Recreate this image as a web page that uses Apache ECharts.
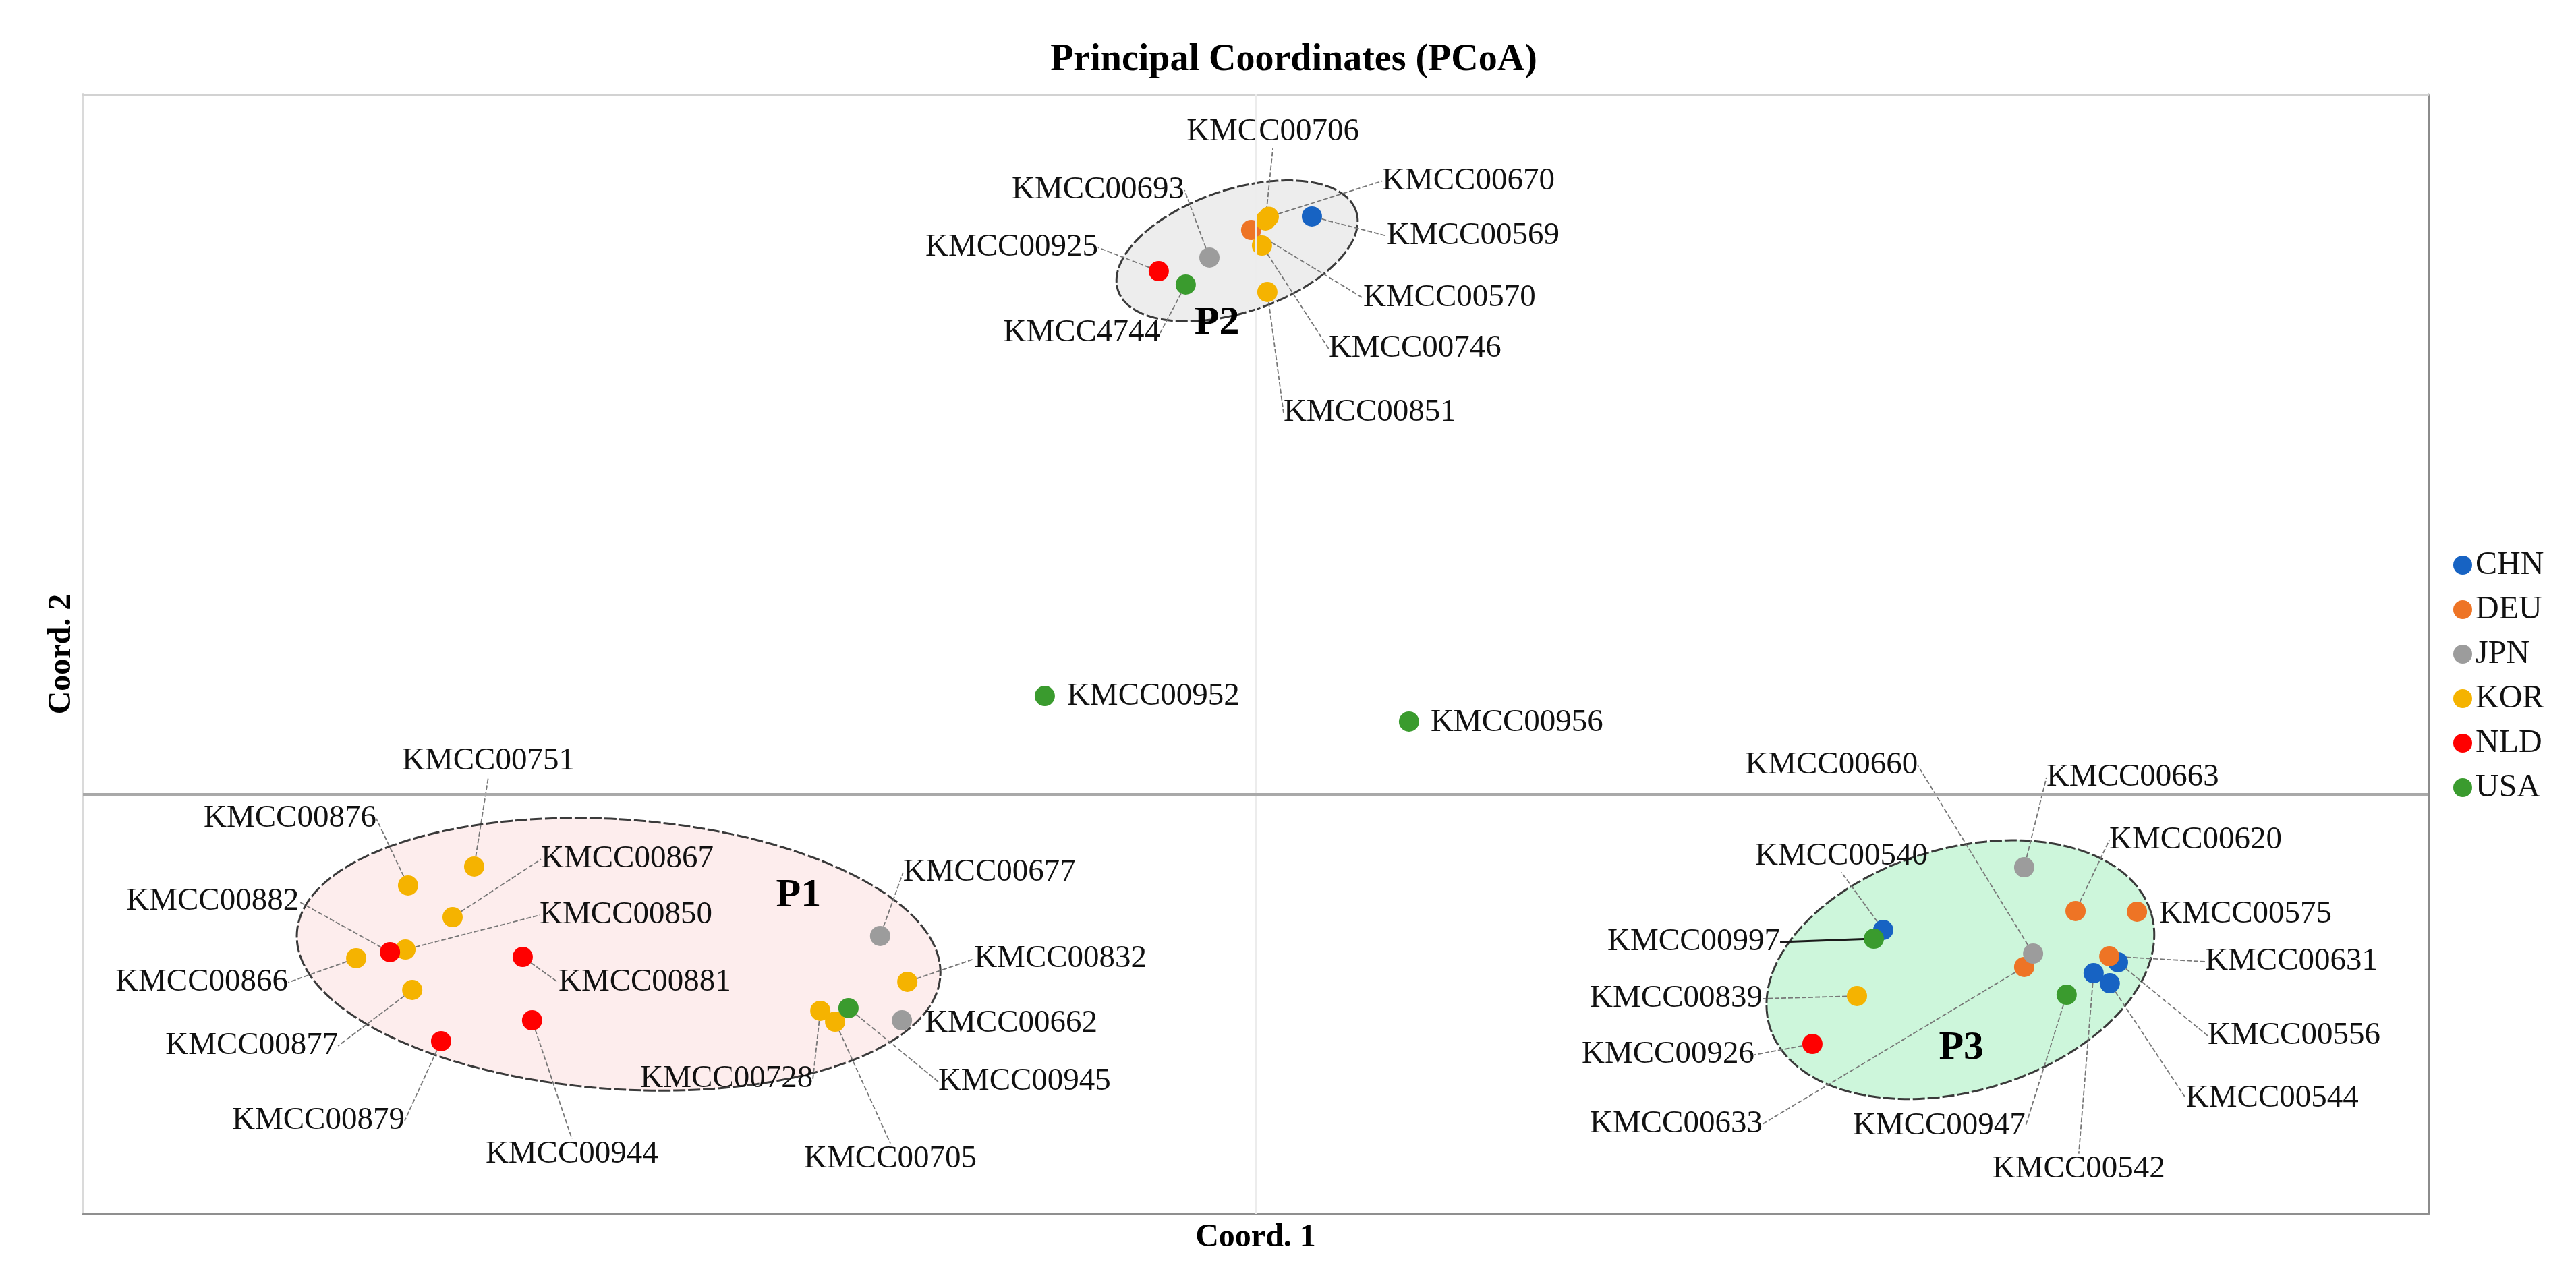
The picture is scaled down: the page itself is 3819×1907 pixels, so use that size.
<!DOCTYPE html>
<html><head><meta charset="utf-8">
<script src="https://cdn.jsdelivr.net/npm/echarts@6/dist/echarts.min.js"></script>
<style>html,body{margin:0;padding:0;background:#fff}#c{width:3819px;height:1907px}</style>
</head><body><div id="c"></div>
<script>
// ---- data (Coord. 1, Coord. 2) per country ----
const countries = ['CHN', 'DEU', 'JPN', 'KOR', 'NLD', 'USA'];
const CHN = [
  ['KMCC00569', 0.0240, 0.4128], ['KMCC00540', 0.2676, -0.0971], ['KMCC00556', 0.3677, -0.1202],
  ['KMCC00542', 0.3573, -0.1280], ['KMCC00544', 0.3642, -0.1352]
];
const DEU = [
  ['KMCC00570', -0.0019, 0.4031], ['KMCC00620', 0.3496, -0.0836], ['KMCC00575', 0.3758, -0.0841],
  ['KMCC00633', 0.3277, -0.1236], ['KMCC00631', 0.3640, -0.1159]
];
const JPN = [
  ['KMCC00693', -0.0197, 0.3834], ['KMCC00677', -0.1601, -0.1014], ['KMCC00662', -0.1508, -0.1617],
  ['KMCC00663', 0.3277, -0.0523], ['KMCC00660', 0.3315, -0.1140]
];
const KOR = [
  ['KMCC00706', 0.0042, 0.4099], ['KMCC00670', 0.0056, 0.4125], ['KMCC00746', 0.0027, 0.3920],
  ['KMCC00851', 0.0050, 0.3588], ['KMCC00751', -0.3332, -0.0518], ['KMCC00876', -0.3614, -0.0653],
  ['KMCC00867', -0.3424, -0.0880], ['KMCC00850', -0.3625, -0.1111], ['KMCC00866', -0.3835, -0.1173],
  ['KMCC00877', -0.3596, -0.1400], ['KMCC00832', -0.1485, -0.1342], ['KMCC00728', -0.1856, -0.1549],
  ['KMCC00705', -0.1793, -0.1627], ['KMCC00839', 0.2564, -0.1443]
];
const NLD = [
  ['KMCC00925', -0.0413, 0.3737], ['KMCC00882', -0.3691, -0.1130], ['KMCC00881', -0.3125, -0.1164],
  ['KMCC00879', -0.3473, -0.1766], ['KMCC00944', -0.3085, -0.1617], ['KMCC00926', 0.2374, -0.1786]
];
const USA = [
  ['KMCC4744', -0.0298, 0.3641], ['KMCC00952', -0.0899, 0.0701], ['KMCC00956', 0.0654, 0.0518],
  ['KMCC00945', -0.1736, -0.1530], ['KMCC00997', 0.2636, -0.1034], ['KMCC00947', 0.3458, -0.1434]
];
const seriesData = [CHN, DEU, JPN, KOR, NLD, USA];

// cluster ellipses (centres and P-label anchors in data units)
const clusterNames = ['P1', 'P2', 'P3'];
const clusterCenters = [[-0.2716, -0.1145], [-0.0079, 0.3882], [0.3005, -0.1255]];
const clusterLabelPos = [[-0.1949, -0.0730], [-0.0165, 0.3366], [0.3009, -0.1819]];

// ---- layout / style (not data) ----
const FONT = "'Liberation Serif', 'Times New Roman', serif";
const colors = ['#1763c3', '#ee7425', '#9c9c9c', '#f5b300', '#ff0000', '#3a9b2e'];
const clusterShape = [[478, 200, -3.9], [186, 91, 18.4], [295, 180, 16.5]]; // semi-axes px, rotation deg
const clusterFill = ['#fdeded', '#ededed', '#cdf6db'];
// label offsets from point centre, in px: [dx, dy, align]
const labelPlacement = {
  'KMCC00706': [11, -131, 'center'], 'KMCC00670': [168, -53, 'left'], 'KMCC00569': [111, 29, 'left'],
  'KMCC00570': [166, 101, 'left'], 'KMCC00746': [99, 153, 'left'], 'KMCC00851': [24, 179, 'left'],
  'KMCC00693': [-37, -100, 'right'], 'KMCC00925': [-90, -35, 'right'], 'KMCC4744': [-38, 72, 'right'],
  'KMCC00751': [21, -156, 'center'], 'KMCC00876': [-47, -99, 'right'], 'KMCC00867': [131, -86, 'left'],
  'KMCC00850': [199, -51, 'left'], 'KMCC00882': [-135, -75, 'right'], 'KMCC00866': [-101, 36, 'right'],
  'KMCC00877': [-110, 83, 'right'], 'KMCC00881': [53, 38, 'left'], 'KMCC00879': [-54, 118, 'right'],
  'KMCC00944': [59, 199, 'center'], 'KMCC00677': [34, -94, 'left'], 'KMCC00832': [99, -34, 'left'],
  'KMCC00662': [34, 5, 'left'], 'KMCC00728': [-139, 101, 'center'], 'KMCC00945': [133, 109, 'left'],
  'KMCC00705': [82, 204, 'center'],
  'KMCC00660': [-171, -279, 'right'], 'KMCC00663': [33, -133, 'left'], 'KMCC00620': [50, -105, 'left'],
  'KMCC00540': [-62, -109, 'center'], 'KMCC00575': [33, 4, 'left'], 'KMCC00997': [-139, 5, 'right'],
  'KMCC00631': [142, 8, 'left'], 'KMCC00839': [-140, 4, 'right'], 'KMCC00556': [133, 109, 'left'],
  'KMCC00926': [-86, 16, 'right'], 'KMCC00544': [113, 171, 'left'], 'KMCC00633': [-388, 233, 'right'],
  'KMCC00947': [-61, 195, 'right'], 'KMCC00542': [-22, 291, 'center'],
  'KMCC00952': [33, 1, 'left'], 'KMCC00956': [32, 2, 'left']
};
const noLeader = new Set(['KMCC00952', 'KMCC00956', 'KMCC00575', 'KMCC00662']);
const darkLeader = new Set(['KMCC00997']);

const chart = echarts.init(document.getElementById('c'), null, {renderer: 'canvas'});

function labelLayout(p) {
  const pl = labelPlacement[p.text];
  if (!pl) return {};
  return {
    x: p.rect.x + p.rect.width / 2 + pl[0],
    y: p.rect.y + p.rect.height / 2 + pl[1],
    align: pl[2],
    verticalAlign: 'middle'
  };
}

const scatterSeries = countries.map((c, i) => ({
  type: 'scatter',
  name: c,
  z: 3,
  symbol: 'circle',
  symbolSize: 30,
  itemStyle: {color: colors[i], opacity: 1},
  data: seriesData[i].map(d => {
    const item = {name: d[0], value: [d[1], d[2]], labelLine: {show: !noLeader.has(d[0])}};
    if (darkLeader.has(d[0])) item.labelLine.lineStyle = {color: '#1a1a1a', width: 3, type: 'solid'};
    return item;
  }),
  label: {
    show: true, formatter: '{b}', position: 'right', distance: 6,
    fontSize: 47, fontFamily: FONT, color: '#111'
  },
  labelLine: {show: true, lineStyle: {color: '#777777', width: 1.8, type: [7, 3]}},
  labelLayout: labelLayout,
  emphasis: {disabled: true}
}));

const ellipseSeries = {
  type: 'custom',
  z: 1,
  silent: true,
  data: clusterCenters.map((c, i) => [c[0], c[1], clusterLabelPos[i][0], clusterLabelPos[i][1]]),
  encode: {x: 0, y: 1},
  renderItem: function (params, api) {
    const i = params.dataIndex;
    const c = api.coord([api.value(0), api.value(1)]);
    const l = api.coord([api.value(2), api.value(3)]);
    const A = clusterShape[i][0], B = clusterShape[i][1], th = clusterShape[i][2] * Math.PI / 180;
    const pts = [];
    for (let k = 0; k < 240; k++) {
      const t = k / 240 * Math.PI * 2;
      const ex = A * Math.cos(t), ey = B * Math.sin(t);
      pts.push([c[0] + ex * Math.cos(th) - ey * Math.sin(th), c[1] - (ex * Math.sin(th) + ey * Math.cos(th))]);
    }
    return {
      type: 'group',
      children: [
        {type: 'polygon', shape: {points: pts},
          style: {fill: clusterFill[i], stroke: '#3a3a3a', lineWidth: 3, lineDash: [18, 4]}},
        {type: 'text', x: l[0], y: l[1],
          style: {text: clusterNames[i], font: 'bold 60px ' + FONT, fill: '#000', align: 'center', verticalAlign: 'middle'}}
      ]
    };
  }
};

const zeroLines = {
  type: 'scatter',
  name: 'zero',
  z: 0,
  data: [],
  silent: true,
  markLine: {
    silent: true,
    symbol: ['none', 'none'],
    label: {show: false},
    animation: false,
    data: [
      {xAxis: 0, lineStyle: {color: '#ececec', width: 2, type: 'solid'}},
      {yAxis: 0, lineStyle: {color: '#a9a9a9', width: 4, type: 'solid'}}
    ]
  }
};

const hidden = {axisTick: {show: false}, axisLabel: {show: false}, splitLine: {show: false}};

chart.setOption({
  animation: false,
  backgroundColor: '#ffffff',
  title: {
    text: 'Principal Coordinates (PCoA)',
    left: 1918, top: 62, textAlign: 'center', padding: 0,
    textStyle: {fontFamily: FONT, fontSize: 56, fontWeight: 'bold', color: '#000', lineHeight: 56}
  },
  legend: {
    data: countries,
    orient: 'vertical',
    left: 3632, top: 808,
    icon: 'circle',
    itemWidth: 28, itemHeight: 28, itemGap: 16,
    textStyle: {fontFamily: FONT, fontSize: 48, color: '#111', lineHeight: 50}
  },
  grid: {left: 123, right: 219, top: 140, bottom: 107, containLabel: false},
  xAxis: [
    Object.assign({type: 'value', min: -0.5, max: 0.5, position: 'bottom',
      axisLine: {show: true, onZero: false, lineStyle: {color: '#8f8f8f', width: 3}},
      name: 'Coord. 1', nameLocation: 'middle', nameGap: 12,
      nameTextStyle: {fontFamily: FONT, fontSize: 48, fontWeight: 'bold', color: '#000', lineHeight: 48}}, hidden),
    Object.assign({type: 'value', min: -0.5, max: 0.5, position: 'top',
      axisLine: {show: true, onZero: false, lineStyle: {color: '#d2d2d2', width: 3}}}, hidden)
  ],
  yAxis: [
    Object.assign({type: 'value', min: -0.3, max: 0.5, position: 'left',
      axisLine: {show: true, onZero: false, lineStyle: {color: '#dadada', width: 4}},
      name: 'Coord. 2', nameLocation: 'middle', nameGap: 7,
      nameTextStyle: {fontFamily: FONT, fontSize: 48, fontWeight: 'bold', color: '#000', lineHeight: 48}}, hidden),
    Object.assign({type: 'value', min: -0.3, max: 0.5, position: 'right',
      axisLine: {show: true, onZero: false, lineStyle: {color: '#8c8c8c', width: 3}}}, hidden)
  ],
  series: scatterSeries.concat([ellipseSeries, zeroLines])
});
</script>
</body></html>
